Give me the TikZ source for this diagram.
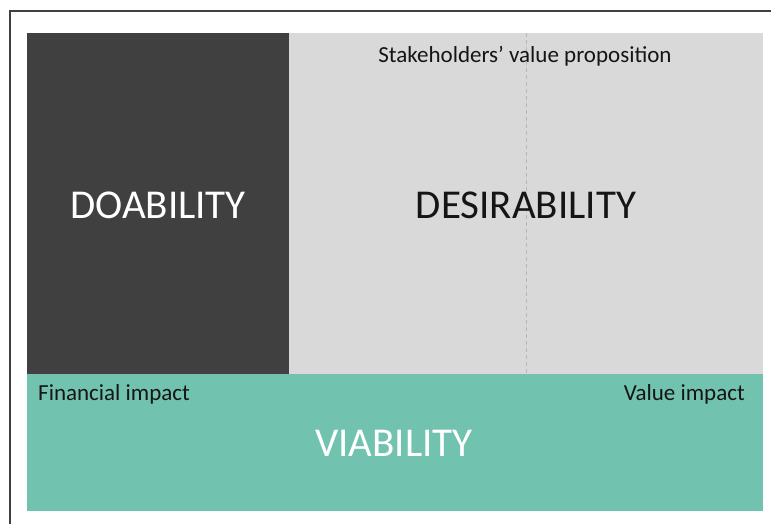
\documentclass[tikz,border=0pt]{standalone}
\usepackage{fontspec}
\setmainfont{Carlito}
\definecolor{darkpanel}{HTML}{404040}
\definecolor{lightpanel}{HTML}{D9D9D9}
\definecolor{tealpanel}{HTML}{72C2B0}
\definecolor{framegray}{HTML}{404040}
\definecolor{dashgray}{HTML}{B8B8B8}
\definecolor{inkdark}{HTML}{151515}
\begin{document}
\begin{tikzpicture}[x=1pt,y=-1pt,
  panel/.style={rectangle,anchor=north west,inner sep=0pt,outer sep=0pt,draw=none},
  bigword/.style={font=\fontsize{41}{44}\selectfont,inner sep=0pt},
  smallword/.style={font=\fontsize{23}{26}\selectfont,text=inkdark,inner sep=0pt}]
  \useasboundingbox (0,0) rectangle (771,524);
  \fill[white] (0,0) rectangle (771,524);
  % outer frame (top and left edges)
  \coordinate (ftl) at (9.8,11);
  \coordinate (ftr) at (771,11);
  \coordinate (fbl) at (9.8,524);
  \draw[framegray,line width=2pt] (ftr) -- (ftl) -- (fbl);
  % panels
  \node[panel,fill=darkpanel,minimum width=262,minimum height=341] (doa) at (27,33) {};
  \node[panel,fill=lightpanel,minimum width=474,minimum height=341] (des) at (289,33) {};
  \node[panel,fill=tealpanel,minimum width=736,minimum height=137] (via) at (27,374) {};
  % dashed divider in the desirability panel
  \coordinate (dtop) at (526,33);
  \coordinate (dbot) at (526,374);
  \draw[dashgray,line width=0.9pt,dash pattern=on 4pt off 3pt] (dtop) -- (dbot);
  % labels
  \node[bigword,text=white] (tdoa) at (158,205) {DOABILITY};
  \node[bigword,text=inkdark] (tdes) at (526,205) {DESIRABILITY};
  \node[bigword,text=white] (tvia) at (394,443) {VIABILITY};
  \node[smallword] (tstake) at (525,56) {Stakeholders’ value proposition};
  \node[smallword,anchor=west] (tfin) at (38,394) {Financial impact};
  \node[smallword,anchor=east] (tval) at (745,394) {Value impact};
\end{tikzpicture}
\end{document}
